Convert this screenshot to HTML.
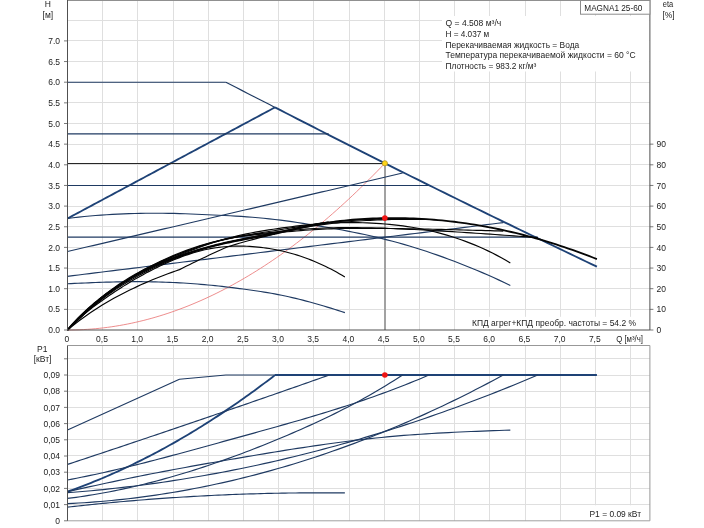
<!DOCTYPE html>
<html><head><meta charset="utf-8"><title>MAGNA1 25-60</title>
<style>html,body{margin:0;padding:0;background:#fff;}svg{display:block;filter:blur(0.35px);}</style></head>
<body>
<svg width="704" height="528" viewBox="0 0 704 528" font-family="Liberation Sans, sans-serif" font-size="8.5" fill="#1c1c1c">
<rect width="704" height="528" fill="#fff"/>
<path d="M102.50,0V330.0 M137.50,0V330.0 M173.50,0V330.0 M208.50,0V330.0 M243.50,0V330.0 M278.50,0V330.0 M313.50,0V330.0 M349.50,0V330.0 M384.50,0V330.0 M419.50,0V330.0 M454.50,0V330.0 M489.50,0V330.0 M525.50,0V330.0 M560.50,0V330.0 M595.50,0V330.0 M630.50,0V330.0 M67.5,309.50H649.9 M67.5,288.50H649.9 M67.5,268.50H649.9 M67.5,247.50H649.9 M67.5,226.50H649.9 M67.5,206.50H649.9 M67.5,185.50H649.9 M67.5,164.50H649.9 M67.5,144.50H649.9 M67.5,123.50H649.9 M67.5,102.50H649.9 M67.5,82.50H649.9 M67.5,61.50H649.9 M67.5,40.50H649.9 M67.5,20.50H649.9" stroke="#dfdfdf" stroke-width="1" fill="none"/>
<path d="M102.50,345.5V520.8 M137.50,345.5V520.8 M173.50,345.5V520.8 M208.50,345.5V520.8 M243.50,345.5V520.8 M278.50,345.5V520.8 M313.50,345.5V520.8 M349.50,345.5V520.8 M384.50,345.5V520.8 M419.50,345.5V520.8 M454.50,345.5V520.8 M489.50,345.5V520.8 M525.50,345.5V520.8 M560.50,345.5V520.8 M595.50,345.5V520.8 M630.50,345.5V520.8 M67.5,504.50H649.9 M67.5,488.50H649.9 M67.5,472.50H649.9 M67.5,455.50H649.9 M67.5,439.50H649.9 M67.5,423.50H649.9 M67.5,407.50H649.9 M67.5,391.50H649.9 M67.5,375.50H649.9 M67.5,358.50H649.9" stroke="#dfdfdf" stroke-width="1" fill="none"/>
<rect x="442" y="16" width="207.5" height="55.5" fill="#fff"/>
<rect x="470" y="316.8" width="180" height="12.7" fill="#fff"/>
<rect x="587" y="505.3" width="63" height="15" fill="#fff"/>
<path d="M385.0,163.27V330.0" stroke="#a2a2a2" stroke-width="2" fill="none"/>
<polyline points="67.50,330.00 71.52,329.97 75.53,329.89 79.55,329.76 83.57,329.57 87.59,329.33 91.60,329.04 95.62,328.69 99.64,328.29 103.66,327.84 107.67,327.33 111.69,326.77 115.71,326.15 119.72,325.49 123.74,324.76 127.76,323.99 131.78,323.16 135.79,322.28 139.81,321.34 143.83,320.36 147.85,319.31 151.86,318.22 155.88,317.07 159.90,315.87 163.91,314.61 167.93,313.30 171.95,311.94 175.97,310.52 179.98,309.06 184.00,307.53 188.02,305.96 192.03,304.33 196.05,302.64 200.07,300.91 204.09,299.12 208.10,297.27 212.12,295.38 216.14,293.43 220.16,291.42 224.17,289.37 228.19,287.26 232.21,285.09 236.22,282.87 240.24,280.60 244.26,278.28 248.28,275.90 252.29,273.47 256.31,270.99 260.33,268.45 264.35,265.86 268.36,263.21 272.38,260.51 276.40,257.76 280.41,254.96 284.43,252.10 288.45,249.19 292.47,246.22 296.48,243.20 300.50,240.13 304.52,237.01 308.54,233.83 312.55,230.59 316.57,227.31 320.59,223.97 324.60,220.58 328.62,217.13 332.64,213.63 336.66,210.08 340.67,206.47 344.69,202.81 348.71,199.10 352.73,195.33 356.74,191.51 360.76,187.64 364.78,183.71 368.79,179.73 372.81,175.69 376.83,171.61 380.85,167.47 384.86,163.27" fill="none" stroke="#e87070" stroke-width="0.8" stroke-linejoin="round" stroke-linecap="butt" />
<polyline points="67.50,82.20 225.90,82.20" fill="none" stroke="#1f3a62" stroke-width="1.15" stroke-linejoin="round" stroke-linecap="butt" />
<polyline points="225.90,82.20 231.35,85.01 236.80,87.81 242.26,90.62 247.71,93.42 253.16,96.22 258.61,99.02 264.06,101.81 269.52,104.60 274.97,107.39" fill="none" stroke="#1f3a62" stroke-width="1.15" stroke-linejoin="round" stroke-linecap="butt" />
<polyline points="274.97,107.39 280.43,110.18 285.88,112.98 291.34,115.77 296.80,118.56 302.25,121.36 307.71,124.15 313.16,126.94 318.62,129.73 324.08,132.52 329.53,135.31 334.99,138.09 340.45,140.87 345.90,143.64 351.36,146.41 356.82,149.17 362.27,151.93 367.73,154.68 373.19,157.43 378.64,160.16 384.10,162.89 389.56,165.61 395.01,168.33 400.47,171.05 405.93,173.76 411.38,176.47 416.84,179.18 422.30,181.88 427.75,184.58 433.21,187.28 438.67,189.97 444.12,192.66 449.58,195.35 455.04,198.04 460.49,200.72 465.95,203.40 471.41,206.07 476.86,208.74 482.32,211.41 487.78,214.08 493.23,216.74 498.69,219.40 504.15,222.05 509.60,224.70 515.06,227.35 520.52,230.00 525.97,232.64 531.43,235.28 536.89,237.91 542.34,240.54 547.80,243.17 553.26,245.79 558.71,248.41 564.17,251.03 569.63,253.64 575.08,256.25 580.54,258.86 585.99,261.46 591.45,264.06 596.91,266.65" fill="none" stroke="#1e4276" stroke-width="1.85" stroke-linejoin="round" stroke-linecap="butt" />
<polyline points="67.50,218.49 70.13,217.08 72.75,215.68 75.38,214.27 78.00,212.86 80.63,211.46 83.26,210.05 85.88,208.65 88.51,207.24 91.14,205.83 93.76,204.43 96.39,203.02 99.01,201.61 101.64,200.21 104.27,198.80 106.89,197.40 109.52,195.99 112.15,194.58 114.77,193.18 117.40,191.77 120.02,190.36 122.65,188.96 125.28,187.55 127.90,186.15 130.53,184.74 133.15,183.33 135.78,181.93 138.41,180.52 141.03,179.11 143.66,177.71 146.29,176.30 148.91,174.89 151.54,173.49 154.16,172.08 156.79,170.68 159.42,169.27 162.04,167.86 164.67,166.46 167.30,165.05 169.92,163.64 172.55,162.24 175.17,160.83 177.80,159.43 180.43,158.02 183.05,156.61 185.68,155.21 188.30,153.80 190.93,152.39 193.56,150.99 196.18,149.58 198.81,148.18 201.44,146.77 204.06,145.36 206.69,143.96 209.31,142.55 211.94,141.14 214.57,139.74 217.19,138.33 219.82,136.93 222.45,135.52 225.07,134.11 227.70,132.71 230.32,131.30 232.95,129.89 235.58,128.49 238.20,127.08 240.83,125.67 243.45,124.27 246.08,122.86 248.71,121.46 251.33,120.05 253.96,118.64 256.59,117.24 259.21,115.83 261.84,114.42 264.46,113.02 267.09,111.61 269.72,110.21 272.34,108.80 274.97,107.39" fill="none" stroke="#1e4276" stroke-width="1.85" stroke-linejoin="round" stroke-linecap="butt" />
<polyline points="67.50,133.83 70.81,133.83 74.11,133.83 77.42,133.83 80.72,133.83 84.03,133.83 87.34,133.83 90.64,133.83 93.95,133.83 97.26,133.83 100.56,133.83 103.87,133.83 107.17,133.83 110.48,133.83 113.79,133.83 117.09,133.83 120.40,133.83 123.70,133.83 127.01,133.83 130.32,133.83 133.62,133.83 136.93,133.83 140.23,133.83 143.54,133.83 146.85,133.83 150.15,133.83 153.46,133.83 156.77,133.83 160.07,133.83 163.38,133.83 166.68,133.83 169.99,133.83 173.30,133.83 176.60,133.83 179.91,133.83 183.21,133.83 186.52,133.83 189.83,133.83 193.13,133.83 196.44,133.83 199.75,133.83 203.05,133.83 206.36,133.83 209.66,133.83 212.97,133.83 216.28,133.83 219.58,133.83 222.89,133.83 226.19,133.83 229.50,133.83 232.81,133.83 236.11,133.83 239.42,133.83 242.72,133.83 246.03,133.83 249.34,133.83 252.64,133.83 255.95,133.83 259.26,133.83 262.56,133.83 265.87,133.83 269.17,133.83 272.48,133.83 275.79,133.83 279.09,133.83 282.40,133.83 285.70,133.83 289.01,133.83 292.32,133.83 295.62,133.83 298.93,133.83 302.23,133.83 305.54,133.83 308.85,133.83 312.15,133.83 315.46,133.83 318.77,133.83 322.07,133.83 325.38,133.83 328.68,133.83" fill="none" stroke="#1f3a62" stroke-width="1.15" stroke-linejoin="round" stroke-linecap="butt" />
<polyline points="67.50,185.45 72.07,185.45 76.63,185.45 81.20,185.45 85.77,185.45 90.34,185.45 94.90,185.45 99.47,185.45 104.04,185.45 108.60,185.45 113.17,185.45 117.74,185.45 122.31,185.45 126.87,185.45 131.44,185.45 136.01,185.45 140.57,185.45 145.14,185.45 149.71,185.45 154.27,185.45 158.84,185.45 163.41,185.45 167.98,185.45 172.54,185.45 177.11,185.45 181.68,185.45 186.24,185.45 190.81,185.45 195.38,185.45 199.95,185.45 204.51,185.45 209.08,185.45 213.65,185.45 218.21,185.45 222.78,185.45 227.35,185.45 231.92,185.45 236.48,185.45 241.05,185.45 245.62,185.45 250.18,185.45 254.75,185.45 259.32,185.45 263.88,185.45 268.45,185.45 273.02,185.45 277.59,185.45 282.15,185.45 286.72,185.45 291.29,185.45 295.85,185.45 300.42,185.45 304.99,185.45 309.56,185.45 314.12,185.45 318.69,185.45 323.26,185.45 327.82,185.45 332.39,185.45 336.96,185.45 341.53,185.45 346.09,185.45 350.66,185.45 355.23,185.45 359.79,185.45 364.36,185.45 368.93,185.45 373.49,185.45 378.06,185.45 382.63,185.45 387.20,185.45 391.76,185.45 396.33,185.45 400.90,185.45 405.46,185.45 410.03,185.45 414.60,185.45 419.17,185.45 423.73,185.45 428.30,185.45" fill="none" stroke="#1f3a62" stroke-width="1.15" stroke-linejoin="round" stroke-linecap="butt" />
<polyline points="67.50,237.07 73.45,237.07 79.41,237.07 85.36,237.07 91.31,237.07 97.26,237.07 103.22,237.07 109.17,237.07 115.12,237.07 121.08,237.07 127.03,237.07 132.98,237.07 138.93,237.07 144.89,237.07 150.84,237.07 156.79,237.07 162.74,237.07 168.70,237.07 174.65,237.07 180.60,237.07 186.56,237.07 192.51,237.07 198.46,237.07 204.41,237.07 210.37,237.07 216.32,237.07 222.27,237.07 228.23,237.07 234.18,237.07 240.13,237.07 246.08,237.07 252.04,237.07 257.99,237.07 263.94,237.07 269.90,237.07 275.85,237.07 281.80,237.07 287.75,237.07 293.71,237.07 299.66,237.07 305.61,237.07 311.57,237.07 317.52,237.07 323.47,237.07 329.42,237.07 335.38,237.07 341.33,237.07 347.28,237.07 353.23,237.07 359.19,237.07 365.14,237.07 371.09,237.07 377.05,237.07 383.00,237.07 388.95,237.07 394.90,237.07 400.86,237.07 406.81,237.07 412.76,237.07 418.72,237.07 424.67,237.07 430.62,237.07 436.57,237.07 442.53,237.07 448.48,237.07 454.43,237.07 460.39,237.07 466.34,237.07 472.29,237.07 478.24,237.07 484.20,237.07 490.15,237.07 496.10,237.07 502.06,237.07 508.01,237.07 513.96,237.07 519.91,237.07 525.87,237.07 531.82,237.07 537.77,237.07" fill="none" stroke="#1f3a62" stroke-width="1.15" stroke-linejoin="round" stroke-linecap="butt" />
<polyline points="67.50,251.53 71.74,250.54 75.98,249.54 80.23,248.55 84.47,247.56 88.71,246.56 92.95,245.57 97.19,244.58 101.43,243.58 105.68,242.59 109.92,241.60 114.16,240.60 118.40,239.61 122.64,238.62 126.89,237.62 131.13,236.63 135.37,235.64 139.61,234.64 143.85,233.65 148.09,232.66 152.34,231.66 156.58,230.67 160.82,229.68 165.06,228.68 169.30,227.69 173.55,226.70 177.79,225.70 182.03,224.71 186.27,223.72 190.51,222.72 194.75,221.73 199.00,220.74 203.24,219.74 207.48,218.75 211.72,217.76 215.96,216.76 220.21,215.77 224.45,214.78 228.69,213.78 232.93,212.79 237.17,211.80 241.41,210.81 245.66,209.81 249.90,208.82 254.14,207.83 258.38,206.83 262.62,205.84 266.87,204.85 271.11,203.85 275.35,202.86 279.59,201.87 283.83,200.87 288.07,199.88 292.32,198.89 296.56,197.89 300.80,196.90 305.04,195.91 309.28,194.91 313.53,193.92 317.77,192.93 322.01,191.93 326.25,190.94 330.49,189.95 334.73,188.95 338.98,187.96 343.22,186.97 347.46,185.97 351.70,184.98 355.94,183.99 360.19,182.99 364.43,182.00 368.67,181.01 372.91,180.01 377.15,179.02 381.39,178.03 385.64,177.03 389.88,176.04 394.12,175.05 398.36,174.05 402.60,173.06" fill="none" stroke="#1f3a62" stroke-width="1.15" stroke-linejoin="round" stroke-linecap="butt" />
<polyline points="67.50,276.31 73.02,275.63 78.53,274.95 84.05,274.27 89.56,273.59 95.08,272.91 100.60,272.23 106.11,271.55 111.63,270.87 117.15,270.19 122.66,269.51 128.18,268.83 133.69,268.15 139.21,267.47 144.73,266.80 150.24,266.12 155.76,265.44 161.27,264.76 166.79,264.08 172.31,263.40 177.82,262.72 183.34,262.04 188.86,261.36 194.37,260.68 199.89,260.00 205.40,259.32 210.92,258.64 216.44,257.96 221.95,257.28 227.47,256.60 232.98,255.92 238.50,255.24 244.02,254.56 249.53,253.88 255.05,253.20 260.57,252.52 266.08,251.84 271.60,251.16 277.11,250.48 282.63,249.80 288.15,249.13 293.66,248.45 299.18,247.77 304.69,247.09 310.21,246.41 315.73,245.73 321.24,245.05 326.76,244.37 332.28,243.69 337.79,243.01 343.31,242.33 348.82,241.65 354.34,240.97 359.86,240.29 365.37,239.61 370.89,238.93 376.40,238.25 381.92,237.57 387.44,236.89 392.95,236.21 398.47,235.53 403.99,234.85 409.50,234.17 415.02,233.49 420.53,232.81 426.05,232.13 431.57,231.46 437.08,230.78 442.60,230.10 448.11,229.42 453.63,228.74 459.15,228.06 464.66,227.38 470.18,226.70 475.70,226.02 481.21,225.34 486.73,224.66 492.24,223.98 497.76,223.30 503.28,222.62" fill="none" stroke="#1f3a62" stroke-width="1.15" stroke-linejoin="round" stroke-linecap="butt" />
<polyline points="67.50,218.49 73.11,217.78 78.71,217.13 84.32,216.54 89.92,216.00 95.53,215.52 101.13,215.09 106.74,214.71 112.34,214.38 117.95,214.09 123.55,213.85 129.16,213.65 134.76,213.48 140.37,213.36 145.97,213.27 151.58,213.22 157.18,213.21 162.79,213.24 168.39,213.32 174.00,213.43 179.61,213.59 185.21,213.78 190.82,214.00 196.42,214.24 202.03,214.49 207.63,214.74 213.24,214.99 218.84,215.25 224.45,215.51 230.05,215.79 235.66,216.10 241.26,216.44 246.87,216.83 252.47,217.26 258.08,217.74 263.68,218.27 269.29,218.85 274.89,219.48 280.50,220.16 286.11,220.89 291.71,221.67 297.32,222.49 302.92,223.35 308.53,224.23 314.13,225.14 319.74,226.06 325.34,227.01 330.95,227.98 336.55,228.99 342.16,230.02 347.76,231.09 353.37,232.19 358.97,233.34 364.58,234.54 370.18,235.78 375.79,237.07 381.39,238.42 387.00,239.82 392.61,241.29 398.21,242.81 403.82,244.40 409.42,246.04 415.03,247.74 420.63,249.50 426.24,251.32 431.84,253.20 437.45,255.13 443.05,257.12 448.66,259.17 454.26,261.28 459.87,263.44 465.47,265.66 471.08,267.93 476.68,270.26 482.29,272.64 487.89,275.09 493.50,277.58 499.11,280.13 504.71,282.74 510.32,285.40" fill="none" stroke="#1f3a62" stroke-width="1.15" stroke-linejoin="round" stroke-linecap="butt" />
<polyline points="67.50,283.74 71.01,283.58 74.52,283.42 78.03,283.27 81.54,283.11 85.06,282.97 88.57,282.82 92.08,282.68 95.59,282.55 99.10,282.42 102.61,282.30 106.12,282.19 109.63,282.09 113.14,282.00 116.66,281.91 120.17,281.84 123.68,281.78 127.19,281.74 130.70,281.70 134.21,281.68 137.72,281.68 141.23,281.69 144.74,281.72 148.26,281.76 151.77,281.81 155.28,281.89 158.79,281.98 162.30,282.08 165.81,282.20 169.32,282.34 172.83,282.49 176.34,282.66 179.85,282.85 183.37,283.05 186.88,283.27 190.39,283.50 193.90,283.76 197.41,284.03 200.92,284.32 204.43,284.62 207.94,284.95 211.45,285.29 214.97,285.65 218.48,286.03 221.99,286.42 225.50,286.83 229.01,287.25 232.52,287.69 236.03,288.13 239.54,288.59 243.05,289.05 246.57,289.53 250.08,290.01 253.59,290.51 257.10,291.02 260.61,291.55 264.12,292.11 267.63,292.68 271.14,293.29 274.65,293.92 278.17,294.58 281.68,295.28 285.19,296.02 288.70,296.78 292.21,297.58 295.72,298.41 299.23,299.27 302.74,300.16 306.25,301.07 309.77,302.01 313.28,302.98 316.79,303.97 320.30,304.99 323.81,306.02 327.32,307.08 330.83,308.16 334.34,309.26 337.85,310.37 341.36,311.51 344.88,312.65" fill="none" stroke="#1f3a62" stroke-width="1.15" stroke-linejoin="round" stroke-linecap="butt" />
<polyline points="67.50,330.00 71.36,326.81 75.22,323.74 79.08,320.79 82.94,317.93 86.80,315.18 90.66,312.53 94.52,309.96 98.38,307.48 102.24,305.09 106.10,302.77 109.96,300.52 113.82,298.35 117.68,296.24 121.54,294.20 125.40,292.21 129.26,290.29 133.12,288.42 136.98,286.61 140.84,284.84 144.70,283.13 148.56,281.46 152.42,279.84 156.28,278.26 160.14,276.73 164.00,275.23 167.86,273.77 171.72,272.35 175.58,270.97 179.44,269.62 182.75,267.97 186.07,266.32 189.39,264.68 192.71,263.06 196.03,261.44 199.35,259.83 202.67,258.23 205.99,256.65 209.31,255.07 212.62,253.51 215.94,251.97 219.26,250.44 222.58,248.93 225.90,247.43 230.36,245.99 234.82,244.61 239.28,243.29 243.74,242.01 248.20,240.78 252.66,239.58 257.13,238.42 261.59,237.27 266.05,236.14 270.51,235.03 274.97,233.91" fill="none" stroke="#050505" stroke-width="1.15" stroke-linejoin="round" stroke-linecap="butt" />
<polyline points="274.97,233.91 279.04,232.91 283.12,231.91 287.19,230.92 291.27,229.94 295.34,228.99 299.42,228.06 303.50,227.16 307.57,226.30 311.65,225.48 315.72,224.70 319.80,223.97 323.87,223.28 327.95,222.65 332.02,222.06 336.10,221.51 340.17,221.02 344.25,220.57 348.32,220.16 352.40,219.79 356.47,219.45 360.55,219.16 364.62,218.91 368.70,218.68 372.77,218.50 376.85,218.34 380.92,218.22 385.00,218.13 389.07,218.08 393.15,218.06 397.22,218.07 401.30,218.12 405.37,218.20 409.45,218.32 413.52,218.46 417.60,218.65 421.68,218.86 425.75,219.11 429.83,219.39 433.90,219.71 437.98,220.06 442.05,220.44 446.13,220.86 450.20,221.31 454.28,221.79 458.35,222.30 462.43,222.85 466.50,223.43 470.58,224.05 474.65,224.69 478.73,225.37 482.80,226.09 486.88,226.83 490.95,227.61 495.03,228.42 499.10,229.26 503.18,230.14 507.25,231.05 511.33,231.99 515.40,232.96 519.48,233.96 523.55,235.00 527.63,236.07 531.71,237.17 535.78,238.31 539.86,239.47 543.93,240.67 548.01,241.90 552.08,243.16 556.16,244.45 560.23,245.77 564.31,247.13 568.38,248.52 572.46,249.93 576.53,251.38 580.61,252.86 584.68,254.38 588.76,255.92 592.83,257.50 596.91,259.09" fill="none" stroke="#050505" stroke-width="1.85" stroke-linejoin="round" stroke-linecap="butt" />
<polyline points="67.50,330.00 69.60,327.56 71.69,325.20 73.79,322.90 75.88,320.67 77.98,318.50 80.07,316.39 82.17,314.33 84.27,312.33 86.36,310.38 88.46,308.48 90.55,306.63 92.65,304.83 94.74,303.07 96.84,301.35 98.93,299.67 101.03,298.03 103.13,296.43 105.22,294.86 107.32,293.33 109.41,291.83 111.51,290.36 113.60,288.93 115.70,287.53 117.80,286.15 119.89,284.81 121.99,283.49 124.08,282.20 126.18,280.93 128.27,279.69 130.37,278.48 132.46,277.29 134.56,276.12 136.66,274.98 138.75,273.86 140.85,272.76 142.94,271.68 145.04,270.63 147.13,269.60 149.23,268.59 151.33,267.60 153.42,266.63 155.52,265.68 157.61,264.75 159.71,263.84 161.80,262.95 163.90,262.08 166.00,261.22 168.09,260.39 170.19,259.57 172.28,258.77 174.38,257.99 176.47,257.22 178.57,256.47 180.66,255.74 182.76,255.02 184.86,254.32 186.95,253.63 189.05,252.95 191.14,252.29 193.24,251.65 195.33,251.01 197.43,250.39 199.53,249.79 201.62,249.19 203.72,248.61 205.81,248.04 207.91,247.48 210.00,246.93 212.10,246.40 214.20,245.87 216.29,245.36 218.39,244.86 220.48,244.37 222.58,243.89 224.67,243.41 226.77,242.95 228.86,242.50 230.96,242.06 233.06,241.62 235.15,241.20 237.25,240.78 239.34,240.37 241.44,239.97 243.53,239.57 245.63,239.18 247.73,238.79 249.82,238.41 251.92,238.02 254.01,237.64 256.11,237.27 258.20,236.89 260.30,236.51 262.39,236.13 264.49,235.75 266.59,235.37 268.68,234.98 270.78,234.59 272.87,234.20 274.97,233.80" fill="none" stroke="#050505" stroke-width="1.85" stroke-linejoin="round" stroke-linecap="butt" />
<polyline points="67.50,330.00 70.14,327.21 72.78,324.50 75.41,321.87 78.05,319.32 80.69,316.84 83.33,314.43 85.97,312.08 88.61,309.80 91.24,307.57 93.88,305.41 96.52,303.30 99.16,301.24 101.80,299.23 104.44,297.27 107.07,295.36 109.71,293.49 112.35,291.67 114.99,289.88 117.63,288.14 120.26,286.44 122.90,284.77 125.54,283.15 128.18,281.56 130.82,280.00 133.46,278.48 136.09,276.99 138.73,275.54 141.37,274.12 144.01,272.73 146.65,271.37 149.28,270.04 151.92,268.75 154.56,267.48 157.20,266.25 159.84,265.05 162.48,263.87 165.11,262.72 167.75,261.60 170.39,260.51 173.03,259.45 175.67,258.41 178.31,257.40 180.94,256.41 183.58,255.45 186.22,254.51 188.86,253.59 191.50,252.70 194.13,251.83 196.77,250.98 199.41,250.15 202.05,249.34 204.69,248.55 207.33,247.78 209.96,247.02 212.60,246.29 215.24,245.57 217.88,244.88 220.52,244.20 223.16,243.53 225.79,242.89 228.43,242.26 231.07,241.64 233.71,241.04 236.35,240.46 238.98,239.88 241.62,239.32 244.26,238.77 246.90,238.22 249.54,237.69 252.18,237.16 254.81,236.63 257.45,236.10 260.09,235.58 262.73,235.05 265.37,234.53 268.00,234.00 270.64,233.46 273.28,232.92 275.92,232.38 278.56,231.83 281.20,231.28 283.83,230.72 286.47,230.16 289.11,229.60 291.75,229.04 294.39,228.47 297.03,227.91 299.66,227.36 302.30,226.81 304.94,226.26 307.58,225.72 310.22,225.19 312.85,224.67 315.49,224.16 318.13,223.66 320.77,223.18 323.41,222.70 326.05,222.23 328.68,221.78" fill="none" stroke="#050505" stroke-width="1.15" stroke-linejoin="round" stroke-linecap="butt" />
<polyline points="67.50,330.00 71.14,326.09 74.79,322.31 78.43,318.65 82.08,315.13 85.72,311.72 89.37,308.43 93.01,305.26 96.66,302.20 100.30,299.25 103.94,296.41 107.59,293.67 111.23,291.03 114.88,288.48 118.52,286.03 122.17,283.66 125.81,281.38 129.46,279.18 133.10,277.07 136.74,275.02 140.39,273.06 144.03,271.16 147.68,269.33 151.32,267.56 154.97,265.85 158.61,264.21 162.26,262.62 165.90,261.09 169.54,259.61 173.19,258.17 176.83,256.79 180.48,255.45 184.12,254.16 187.77,252.91 191.41,251.71 195.06,250.54 198.70,249.41 202.34,248.33 205.99,247.28 209.63,246.27 213.28,245.30 216.92,244.36 220.57,243.46 224.21,242.60 227.86,241.77 231.50,240.97 235.14,240.21 238.79,239.47 242.43,238.75 246.08,238.05 249.72,237.37 253.37,236.71 257.01,236.05 260.66,235.39 264.30,234.74 267.94,234.09 271.59,233.43 275.23,232.76 278.88,232.09 282.52,231.42 286.17,230.75 289.81,230.07 293.46,229.40 297.10,228.74 300.74,228.09 304.39,227.46 308.03,226.84 311.68,226.25 315.32,225.68 318.97,225.15 322.61,224.63 326.26,224.15 329.90,223.70 333.54,223.27 337.19,222.87 340.83,222.50 344.48,222.15 348.12,221.83 351.77,221.53 355.41,221.25 359.06,221.00 362.70,220.76 366.34,220.54 369.99,220.35 373.63,220.17 377.28,220.00 380.92,219.86 384.57,219.74 388.21,219.63 391.86,219.53 395.50,219.46 399.14,219.40 402.79,219.36 406.43,219.33 410.08,219.32 413.72,219.33 417.37,219.35 421.01,219.39 424.66,219.44 428.30,219.51" fill="none" stroke="#050505" stroke-width="1.15" stroke-linejoin="round" stroke-linecap="butt" />
<polyline points="67.50,330.00 72.25,325.23 77.00,320.60 81.75,316.10 86.50,311.75 91.25,307.54 96.00,303.48 100.75,299.57 105.50,295.81 110.25,292.21 115.00,288.75 119.75,285.45 124.50,282.29 129.25,279.27 134.00,276.38 138.75,273.62 143.50,270.97 148.25,268.43 153.00,265.99 157.75,263.64 162.50,261.38 167.25,259.20 172.00,257.10 176.76,255.07 181.51,253.11 186.26,251.23 191.01,249.43 195.76,247.71 200.51,246.08 205.26,244.54 210.01,243.10 214.76,241.75 219.51,240.51 224.26,239.37 229.01,238.34 233.76,237.40 238.51,236.55 243.26,235.79 248.01,235.10 252.76,234.47 257.51,233.89 262.26,233.34 267.01,232.82 271.76,232.32 276.51,231.82 281.26,231.33 286.01,230.86 290.76,230.39 295.51,229.95 300.26,229.53 305.01,229.14 309.76,228.79 314.51,228.49 319.26,228.23 324.01,228.02 328.76,227.85 333.51,227.72 338.26,227.64 343.01,227.59 347.76,227.58 352.51,227.60 357.26,227.64 362.01,227.71 366.76,227.79 371.51,227.90 376.26,228.03 381.01,228.17 385.76,228.33 390.52,228.50 395.27,228.69 400.02,228.88 404.77,229.09 409.52,229.31 414.27,229.54 419.02,229.78 423.77,230.03 428.52,230.28 433.27,230.55 438.02,230.82 442.77,231.10 447.52,231.39 452.27,231.68 457.02,231.98 461.77,232.28 466.52,232.59 471.27,232.90 476.02,233.22 480.77,233.54 485.52,233.87 490.27,234.19 495.02,234.52 499.77,234.86 504.52,235.20 509.27,235.54 514.02,235.88 518.77,236.22 523.52,236.56 528.27,236.91 533.02,237.26 537.77,237.61" fill="none" stroke="#050505" stroke-width="1.15" stroke-linejoin="round" stroke-linecap="butt" />
<polyline points="67.50,330.00 70.88,326.38 74.27,322.83 77.65,319.36 81.04,315.97 84.42,312.67 87.81,309.46 91.19,306.34 94.58,303.31 97.96,300.39 101.35,297.55 104.73,294.82 108.12,292.18 111.50,289.64 114.89,287.19 118.27,284.83 121.66,282.56 125.04,280.38 128.43,278.28 131.81,276.26 135.20,274.31 138.58,272.43 141.97,270.62 145.35,268.87 148.74,267.18 152.12,265.54 155.51,263.95 158.89,262.40 162.28,260.90 165.66,259.43 169.05,258.00 172.43,256.61 175.82,255.25 179.20,253.93 182.59,252.64 185.97,251.38 189.36,250.15 192.74,248.96 196.13,247.80 199.51,246.67 202.90,245.59 206.28,244.54 209.67,243.53 213.05,242.56 216.44,241.64 219.82,240.75 223.20,239.91 226.59,239.10 229.97,238.34 233.36,237.62 236.74,236.93 240.13,236.28 243.51,235.66 246.90,235.06 250.28,234.48 253.67,233.92 257.05,233.38 260.44,232.84 263.82,232.30 267.21,231.77 270.59,231.24 273.98,230.70 277.36,230.15 280.75,229.60 284.13,229.05 287.52,228.49 290.90,227.93 294.29,227.37 297.67,226.81 301.06,226.26 304.44,225.73 307.83,225.21 311.21,224.70 314.60,224.21 317.98,223.75 321.37,223.31 324.75,222.89 328.14,222.50 331.52,222.13 334.91,221.78 338.29,221.46 341.68,221.15 345.06,220.88 348.45,220.62 351.83,220.38 355.22,220.16 358.60,219.96 361.99,219.78 365.37,219.61 368.76,219.47 372.14,219.34 375.52,219.22 378.91,219.13 382.29,219.05 385.68,218.98 389.06,218.93 392.45,218.90 395.83,218.88 399.22,218.88 402.60,218.89" fill="none" stroke="#050505" stroke-width="1.15" stroke-linejoin="round" stroke-linecap="butt" />
<polyline points="67.50,330.00 71.90,325.78 76.30,321.59 80.71,317.46 85.11,313.40 89.51,309.41 93.91,305.52 98.31,301.73 102.71,298.06 107.12,294.50 111.52,291.07 115.92,287.78 120.32,284.61 124.72,281.58 129.12,278.67 133.53,275.89 137.93,273.24 142.33,270.70 146.73,268.27 151.13,265.94 155.54,263.71 159.94,261.57 164.34,259.52 168.74,257.54 173.14,255.65 177.54,253.83 181.95,252.08 186.35,250.41 190.75,248.82 195.15,247.30 199.55,245.87 203.96,244.51 208.36,243.24 212.76,242.06 217.16,240.97 221.56,239.97 225.96,239.05 230.37,238.22 234.77,237.47 239.17,236.80 243.57,236.19 247.97,235.64 252.37,235.14 256.78,234.68 261.18,234.24 265.58,233.82 269.98,233.40 274.38,233.00 278.79,232.59 283.19,232.19 287.59,231.78 291.99,231.39 296.39,231.01 300.79,230.64 305.20,230.29 309.60,229.97 314.00,229.68 318.40,229.42 322.80,229.19 327.20,229.00 331.61,228.83 336.01,228.70 340.41,228.59 344.81,228.50 349.21,228.44 353.62,228.40 358.02,228.37 362.42,228.35 366.82,228.35 371.22,228.36 375.62,228.38 380.03,228.41 384.43,228.44 388.83,228.49 393.23,228.54 397.63,228.60 402.04,228.66 406.44,228.73 410.84,228.80 415.24,228.88 419.64,228.96 424.04,229.05 428.45,229.14 432.85,229.23 437.25,229.33 441.65,229.43 446.05,229.53 450.45,229.64 454.86,229.75 459.26,229.86 463.66,229.97 468.06,230.09 472.46,230.20 476.87,230.32 481.27,230.44 485.67,230.56 490.07,230.68 494.47,230.81 498.87,230.93 503.28,231.06" fill="none" stroke="#050505" stroke-width="1.15" stroke-linejoin="round" stroke-linecap="butt" />
<polyline points="67.50,330.00 71.97,324.89 76.45,320.06 80.92,315.50 85.39,311.19 89.86,307.10 94.34,303.24 98.81,299.57 103.28,296.09 107.76,292.80 112.23,289.66 116.70,286.68 121.17,283.84 125.65,281.13 130.12,278.53 134.59,276.05 139.07,273.65 143.54,271.34 148.01,269.11 152.48,266.95 156.96,264.85 161.43,262.80 165.90,260.81 170.38,258.86 174.85,256.97 179.32,255.12 183.80,253.31 188.27,251.55 192.74,249.84 197.21,248.18 201.69,246.57 206.16,245.01 210.63,243.50 215.11,242.05 219.58,240.67 224.05,239.35 228.52,238.11 233.00,236.94 237.47,235.85 241.94,234.83 246.42,233.89 250.89,233.01 255.36,232.18 259.83,231.40 264.31,230.65 268.78,229.94 273.25,229.24 277.73,228.58 282.20,227.93 286.67,227.31 291.14,226.71 295.62,226.14 300.09,225.61 304.56,225.11 309.04,224.65 313.51,224.24 317.98,223.86 322.45,223.54 326.93,223.25 331.40,223.02 335.87,222.84 340.35,222.70 344.82,222.61 349.29,222.57 353.76,222.57 358.24,222.63 362.71,222.72 367.18,222.87 371.66,223.06 376.13,223.31 380.60,223.60 385.08,223.95 389.55,224.36 394.02,224.83 398.49,225.35 402.97,225.93 407.44,226.57 411.91,227.27 416.39,228.04 420.86,228.87 425.33,229.78 429.80,230.75 434.28,231.80 438.75,232.92 443.22,234.13 447.70,235.41 452.17,236.77 456.64,238.22 461.11,239.76 465.59,241.38 470.06,243.09 474.53,244.90 479.01,246.80 483.48,248.79 487.95,250.89 492.42,253.08 496.90,255.38 501.37,257.78 505.84,260.28 510.32,262.89" fill="none" stroke="#050505" stroke-width="1.15" stroke-linejoin="round" stroke-linecap="butt" />
<polyline points="67.50,330.00 70.30,327.09 73.10,324.29 75.91,321.61 78.71,319.02 81.51,316.54 84.31,314.14 87.11,311.82 89.91,309.58 92.72,307.40 95.52,305.28 98.32,303.21 101.12,301.18 103.92,299.19 106.72,297.23 109.53,295.30 112.33,293.41 115.13,291.54 117.93,289.70 120.73,287.90 123.54,286.13 126.34,284.39 129.14,282.68 131.94,281.01 134.74,279.36 137.54,277.75 140.35,276.17 143.15,274.63 145.95,273.11 148.75,271.63 151.55,270.18 154.36,268.77 157.16,267.39 159.96,266.05 162.76,264.73 165.56,263.46 168.36,262.22 171.17,261.01 173.97,259.84 176.77,258.71 179.57,257.62 182.37,256.56 185.17,255.55 187.98,254.59 190.78,253.66 193.58,252.79 196.38,251.96 199.18,251.19 201.99,250.47 204.79,249.81 207.59,249.20 210.39,248.65 213.19,248.16 215.99,247.72 218.80,247.34 221.60,247.01 224.40,246.74 227.20,246.52 230.00,246.34 232.80,246.22 235.61,246.14 238.41,246.11 241.21,246.12 244.01,246.17 246.81,246.27 249.62,246.41 252.42,246.59 255.22,246.81 258.02,247.07 260.82,247.37 263.62,247.72 266.43,248.10 269.23,248.53 272.03,249.00 274.83,249.51 277.63,250.07 280.44,250.67 283.24,251.30 286.04,251.99 288.84,252.71 291.64,253.48 294.44,254.29 297.25,255.15 300.05,256.05 302.85,257.00 305.65,258.00 308.45,259.04 311.25,260.12 314.06,261.26 316.86,262.44 319.66,263.67 322.46,264.95 325.26,266.28 328.07,267.66 330.87,269.09 333.67,270.57 336.47,272.11 339.27,273.69 342.07,275.32 344.88,277.01" fill="none" stroke="#050505" stroke-width="1.15" stroke-linejoin="round" stroke-linecap="butt" />
<path d="M67.5,163.50H384.86" stroke="#262626" stroke-width="1" fill="none"/>
<polyline points="67.50,430.08 179.44,379.21 225.90,375.00 274.97,375.00" fill="none" stroke="#1f3a62" stroke-width="1.15" stroke-linejoin="round" stroke-linecap="butt" />
<polyline points="274.97,375.00 596.91,375.00" fill="none" stroke="#1e4276" stroke-width="1.85" stroke-linejoin="round" stroke-linecap="butt" />
<polyline points="67.50,491.64 70.13,490.71 72.75,489.77 75.38,488.81 78.00,487.84 80.63,486.86 83.26,485.86 85.88,484.85 88.51,483.82 91.14,482.78 93.76,481.72 96.39,480.66 99.01,479.57 101.64,478.48 104.27,477.37 106.89,476.24 109.52,475.10 112.15,473.95 114.77,472.78 117.40,471.60 120.02,470.41 122.65,469.20 125.28,467.98 127.90,466.74 130.53,465.49 133.15,464.22 135.78,462.95 138.41,461.65 141.03,460.35 143.66,459.03 146.29,457.69 148.91,456.34 151.54,454.98 154.16,453.60 156.79,452.21 159.42,450.81 162.04,449.39 164.67,447.96 167.30,446.51 169.92,445.05 172.55,443.57 175.17,442.08 177.80,440.58 180.43,439.06 183.05,437.53 185.68,435.99 188.30,434.43 190.93,432.86 193.56,431.27 196.18,429.67 198.81,428.06 201.44,426.43 204.06,424.78 206.69,423.13 209.31,421.46 211.94,419.77 214.57,418.07 217.19,416.36 219.82,414.63 222.45,412.89 225.07,411.14 227.70,409.37 230.32,407.59 232.95,405.79 235.58,403.98 238.20,402.15 240.83,400.31 243.45,398.46 246.08,396.59 248.71,394.71 251.33,392.82 253.96,390.91 256.59,388.99 259.21,387.05 261.84,385.10 264.46,383.13 267.09,381.16 269.72,379.16 272.34,377.16 274.97,375.13" fill="none" stroke="#1e4276" stroke-width="1.85" stroke-linejoin="round" stroke-linecap="butt" />
<polyline points="67.50,464.42 70.81,463.33 74.11,462.24 77.42,461.14 80.72,460.05 84.03,458.95 87.34,457.85 90.64,456.75 93.95,455.65 97.26,454.55 100.56,453.45 103.87,452.35 107.17,451.25 110.48,450.14 113.79,449.04 117.09,447.93 120.40,446.83 123.70,445.72 127.01,444.61 130.32,443.50 133.62,442.39 136.93,441.28 140.23,440.17 143.54,439.05 146.85,437.94 150.15,436.82 153.46,435.71 156.77,434.59 160.07,433.47 163.38,432.35 166.68,431.23 169.99,430.11 173.30,428.99 176.60,427.87 179.91,426.75 183.21,425.62 186.52,424.50 189.83,423.37 193.13,422.24 196.44,421.12 199.75,419.99 203.05,418.86 206.36,417.73 209.66,416.59 212.97,415.46 216.28,414.33 219.58,413.19 222.89,412.06 226.19,410.92 229.50,409.79 232.81,408.65 236.11,407.51 239.42,406.37 242.72,405.23 246.03,404.09 249.34,402.94 252.64,401.80 255.95,400.65 259.26,399.51 262.56,398.36 265.87,397.22 269.17,396.07 272.48,394.92 275.79,393.77 279.09,392.62 282.40,391.47 285.70,390.31 289.01,389.16 292.32,388.00 295.62,386.85 298.93,385.69 302.23,384.53 305.54,383.38 308.85,382.22 312.15,381.06 315.46,379.89 318.77,378.73 322.07,377.57 325.38,376.41 328.68,375.24" fill="none" stroke="#1f3a62" stroke-width="1.15" stroke-linejoin="round" stroke-linecap="butt" />
<polyline points="67.50,479.98 72.07,479.11 76.63,478.22 81.20,477.31 85.77,476.37 90.34,475.42 94.90,474.44 99.47,473.45 104.04,472.44 108.60,471.40 113.17,470.35 117.74,469.29 122.31,468.20 126.87,467.10 131.44,465.99 136.01,464.86 140.57,463.72 145.14,462.57 149.71,461.40 154.27,460.22 158.84,459.04 163.41,457.84 167.98,456.63 172.54,455.42 177.11,454.19 181.68,452.96 186.24,451.72 190.81,450.48 195.38,449.23 199.95,447.98 204.51,446.72 209.08,445.46 213.65,444.20 218.21,442.93 222.78,441.67 227.35,440.40 231.92,439.14 236.48,437.88 241.05,436.61 245.62,435.35 250.18,434.09 254.75,432.83 259.32,431.56 263.88,430.29 268.45,429.02 273.02,427.75 277.59,426.46 282.15,425.17 286.72,423.88 291.29,422.57 295.85,421.26 300.42,419.93 304.99,418.60 309.56,417.25 314.12,415.89 318.69,414.52 323.26,413.13 327.82,411.72 332.39,410.30 336.96,408.87 341.53,407.41 346.09,405.94 350.66,404.45 355.23,402.94 359.79,401.40 364.36,399.85 368.93,398.27 373.49,396.67 378.06,395.04 382.63,393.39 387.20,391.71 391.76,390.01 396.33,388.28 400.90,386.52 405.46,384.72 410.03,382.90 414.60,381.05 419.17,379.17 423.73,377.25 428.30,375.30" fill="none" stroke="#1f3a62" stroke-width="1.15" stroke-linejoin="round" stroke-linecap="butt" />
<polyline points="67.50,492.69 73.45,492.24 79.41,491.75 85.36,491.25 91.31,490.71 97.26,490.15 103.22,489.56 109.17,488.94 115.12,488.30 121.08,487.63 127.03,486.94 132.98,486.22 138.93,485.47 144.89,484.70 150.84,483.90 156.79,483.07 162.74,482.21 168.70,481.33 174.65,480.43 180.60,479.50 186.56,478.54 192.51,477.55 198.46,476.54 204.41,475.50 210.37,474.43 216.32,473.34 222.27,472.22 228.23,471.08 234.18,469.90 240.13,468.71 246.08,467.48 252.04,466.23 257.99,464.95 263.94,463.65 269.90,462.32 275.85,460.96 281.80,459.58 287.75,458.17 293.71,456.73 299.66,455.27 305.61,453.78 311.57,452.26 317.52,450.72 323.47,449.15 329.42,447.55 335.38,445.93 341.33,444.28 347.28,442.61 353.23,440.91 359.19,439.18 365.14,437.42 371.09,435.64 377.05,433.83 383.00,432.00 388.95,430.14 394.90,428.25 400.86,426.34 406.81,424.40 412.76,422.43 418.72,420.44 424.67,418.42 430.62,416.37 436.57,414.30 442.53,412.20 448.48,410.07 454.43,407.92 460.39,405.74 466.34,403.54 472.29,401.31 478.24,399.05 484.20,396.76 490.15,394.45 496.10,392.12 502.06,389.75 508.01,387.36 513.96,384.94 519.91,382.50 525.87,380.03 531.82,377.53 537.77,375.01" fill="none" stroke="#1f3a62" stroke-width="1.15" stroke-linejoin="round" stroke-linecap="butt" />
<polyline points="67.50,498.44 71.74,497.90 75.98,497.33 80.23,496.73 84.47,496.10 88.71,495.44 92.95,494.75 97.19,494.03 101.43,493.27 105.68,492.50 109.92,491.69 114.16,490.85 118.40,489.98 122.64,489.09 126.89,488.17 131.13,487.22 135.37,486.25 139.61,485.24 143.85,484.21 148.09,483.16 152.34,482.07 156.58,480.96 160.82,479.83 165.06,478.67 169.30,477.48 173.55,476.27 177.79,475.03 182.03,473.77 186.27,472.49 190.51,471.18 194.75,469.85 199.00,468.49 203.24,467.11 207.48,465.70 211.72,464.28 215.96,462.83 220.21,461.36 224.45,459.86 228.69,458.35 232.93,456.81 237.17,455.25 241.41,453.67 245.66,452.07 249.90,450.45 254.14,448.80 258.38,447.14 262.62,445.46 266.87,443.75 271.11,442.03 275.35,440.29 279.59,438.52 283.83,436.74 288.07,434.94 292.32,433.12 296.56,431.28 300.80,429.42 305.04,427.53 309.28,425.63 313.53,423.69 317.77,421.74 322.01,419.75 326.25,417.73 330.49,415.69 334.73,413.61 338.98,411.50 343.22,409.35 347.46,407.17 351.70,404.95 355.94,402.69 360.19,400.40 364.43,398.06 368.67,395.67 372.91,393.25 377.15,390.77 381.39,388.26 385.64,385.69 389.88,383.07 394.12,380.40 398.36,377.68 402.60,374.91" fill="none" stroke="#1f3a62" stroke-width="1.15" stroke-linejoin="round" stroke-linecap="butt" />
<polyline points="67.50,503.63 73.02,503.35 78.53,503.05 84.05,502.70 89.56,502.33 95.08,501.91 100.60,501.47 106.11,500.98 111.63,500.47 117.15,499.92 122.66,499.33 128.18,498.71 133.69,498.06 139.21,497.36 144.73,496.64 150.24,495.88 155.76,495.09 161.27,494.26 166.79,493.39 172.31,492.49 177.82,491.56 183.34,490.59 188.86,489.59 194.37,488.55 199.89,487.48 205.40,486.37 210.92,485.23 216.44,484.06 221.95,482.84 227.47,481.60 232.98,480.32 238.50,479.00 244.02,477.65 249.53,476.27 255.05,474.85 260.57,473.39 266.08,471.91 271.60,470.38 277.11,468.82 282.63,467.23 288.15,465.60 293.66,463.94 299.18,462.24 304.69,460.51 310.21,458.74 315.73,456.94 321.24,455.11 326.76,453.23 332.28,451.33 337.79,449.39 343.31,447.41 348.82,445.40 354.34,443.36 359.86,441.28 365.37,439.16 370.89,437.02 376.40,434.83 381.92,432.61 387.44,430.36 392.95,428.07 398.47,425.75 403.99,423.39 409.50,421.00 415.02,418.57 420.53,416.11 426.05,413.62 431.57,411.09 437.08,408.52 442.60,405.92 448.11,403.29 453.63,400.62 459.15,397.91 464.66,395.17 470.18,392.40 475.70,389.59 481.21,386.75 486.73,383.87 492.24,380.95 497.76,378.01 503.28,375.02" fill="none" stroke="#1f3a62" stroke-width="1.15" stroke-linejoin="round" stroke-linecap="butt" />
<polyline points="67.50,491.64 73.11,490.40 78.71,489.15 84.32,487.91 89.92,486.68 95.53,485.45 101.13,484.23 106.74,483.02 112.34,481.82 117.95,480.63 123.55,479.45 129.16,478.29 134.76,477.14 140.37,476.01 145.97,474.90 151.58,473.80 157.18,472.71 162.79,471.64 168.39,470.58 174.00,469.53 179.61,468.49 185.21,467.46 190.82,466.44 196.42,465.43 202.03,464.43 207.63,463.44 213.24,462.45 218.84,461.47 224.45,460.50 230.05,459.53 235.66,458.57 241.26,457.61 246.87,456.66 252.47,455.71 258.08,454.77 263.68,453.83 269.29,452.91 274.89,451.99 280.50,451.08 286.11,450.19 291.71,449.30 297.32,448.43 302.92,447.58 308.53,446.73 314.13,445.90 319.74,445.09 325.34,444.30 330.95,443.52 336.55,442.76 342.16,442.02 347.76,441.30 353.37,440.61 358.97,439.93 364.58,439.28 370.18,438.65 375.79,438.05 381.39,437.47 387.00,436.92 392.61,436.40 398.21,435.91 403.82,435.44 409.42,435.00 415.03,434.59 420.63,434.20 426.24,433.83 431.84,433.48 437.45,433.16 443.05,432.85 448.66,432.56 454.26,432.28 459.87,432.02 465.47,431.77 471.08,431.54 476.68,431.31 482.29,431.09 487.89,430.88 493.50,430.68 499.11,430.48 504.71,430.28 510.32,430.08" fill="none" stroke="#1f3a62" stroke-width="1.15" stroke-linejoin="round" stroke-linecap="butt" />
<polyline points="67.50,507.11 71.01,506.72 74.52,506.33 78.03,505.95 81.54,505.57 85.06,505.20 88.57,504.83 92.08,504.47 95.59,504.11 99.10,503.76 102.61,503.42 106.12,503.08 109.63,502.75 113.14,502.42 116.66,502.10 120.17,501.78 123.68,501.47 127.19,501.16 130.70,500.86 134.21,500.57 137.72,500.28 141.23,500.00 144.74,499.72 148.26,499.44 151.77,499.18 155.28,498.92 158.79,498.66 162.30,498.41 165.81,498.16 169.32,497.92 172.83,497.69 176.34,497.46 179.85,497.24 183.37,497.02 186.88,496.81 190.39,496.60 193.90,496.40 197.41,496.20 200.92,496.01 204.43,495.83 207.94,495.65 211.45,495.47 214.97,495.30 218.48,495.14 221.99,494.98 225.50,494.83 229.01,494.69 232.52,494.54 236.03,494.41 239.54,494.28 243.05,494.15 246.57,494.04 250.08,493.92 253.59,493.81 257.10,493.71 260.61,493.61 264.12,493.52 267.63,493.44 271.14,493.36 274.65,493.28 278.17,493.21 281.68,493.15 285.19,493.09 288.70,493.04 292.21,492.99 295.72,492.95 299.23,492.91 302.74,492.88 306.25,492.85 309.77,492.83 313.28,492.82 316.79,492.81 320.30,492.81 323.81,492.81 327.32,492.82 330.83,492.83 334.34,492.85 337.85,492.87 341.36,492.90 344.88,492.94" fill="none" stroke="#1f3a62" stroke-width="1.15" stroke-linejoin="round" stroke-linecap="butt" />
<circle cx="384.86" cy="163.27" r="2.6" fill="#ffd618" stroke="#b89420" stroke-width="0.8"/>
<circle cx="384.86" cy="218.08" r="2.8" fill="#f01414"/>
<circle cx="384.86" cy="375.00" r="2.8" fill="#f01414"/>
<path d="M67.5,0.5H649.9" stroke="#909090" stroke-width="1" fill="none"/>
<path d="M67.5,345.5H649.9V520.8" stroke="#989898" stroke-width="1" fill="none"/>
<path d="M67.5,520.8H649.9" stroke="#a0a0a0" stroke-width="1" fill="none"/>
<path d="M64.0,330.00H67.5 M64.0,309.35H67.5 M64.0,288.70H67.5 M64.0,268.05H67.5 M64.0,247.40H67.5 M64.0,226.75H67.5 M64.0,206.10H67.5 M64.0,185.45H67.5 M64.0,164.80H67.5 M64.0,144.15H67.5 M64.0,123.50H67.5 M64.0,102.85H67.5 M64.0,82.20H67.5 M64.0,61.55H67.5 M64.0,40.90H67.5 M649.9,330.00H653.4 M649.9,309.35H653.4 M649.9,288.70H653.4 M649.9,268.05H653.4 M649.9,247.40H653.4 M649.9,226.75H653.4 M649.9,206.10H653.4 M649.9,185.45H653.4 M649.9,164.80H653.4 M649.9,144.15H653.4 M64.0,520.80H67.5 M64.0,504.60H67.5 M64.0,488.40H67.5 M64.0,472.20H67.5 M64.0,456.00H67.5 M64.0,439.80H67.5 M64.0,423.60H67.5 M64.0,407.40H67.5 M64.0,391.20H67.5 M64.0,375.00H67.5 M64.0,358.80H67.5" stroke="#7a7a7a" stroke-width="1" fill="none"/>
<path d="M67.5,0V330.0H649.9V0 M67.5,345.5V520.8" stroke="#505050" stroke-width="1" fill="none"/>
<text x="60" y="333.10" text-anchor="end">0.0</text>
<text x="60" y="312.45" text-anchor="end">0.5</text>
<text x="60" y="291.80" text-anchor="end">1.0</text>
<text x="60" y="271.15" text-anchor="end">1.5</text>
<text x="60" y="250.50" text-anchor="end">2.0</text>
<text x="60" y="229.85" text-anchor="end">2.5</text>
<text x="60" y="209.20" text-anchor="end">3.0</text>
<text x="60" y="188.55" text-anchor="end">3.5</text>
<text x="60" y="167.90" text-anchor="end">4.0</text>
<text x="60" y="147.25" text-anchor="end">4.5</text>
<text x="60" y="126.60" text-anchor="end">5.0</text>
<text x="60" y="105.95" text-anchor="end">5.5</text>
<text x="60" y="85.30" text-anchor="end">6.0</text>
<text x="60" y="64.65" text-anchor="end">6.5</text>
<text x="60" y="44.00" text-anchor="end">7.0</text>
<text x="656.6" y="333.10">0</text>
<text x="656.6" y="312.45">10</text>
<text x="656.6" y="291.80">20</text>
<text x="656.6" y="271.15">30</text>
<text x="656.6" y="250.50">40</text>
<text x="656.6" y="229.85">50</text>
<text x="656.6" y="209.20">60</text>
<text x="656.6" y="188.55">70</text>
<text x="656.6" y="167.90">80</text>
<text x="656.6" y="147.25">90</text>
<text x="60" y="523.90" text-anchor="end">0</text>
<text x="60" y="507.70" text-anchor="end">0,01</text>
<text x="60" y="491.50" text-anchor="end">0,02</text>
<text x="60" y="475.30" text-anchor="end">0,03</text>
<text x="60" y="459.10" text-anchor="end">0,04</text>
<text x="60" y="442.90" text-anchor="end">0,05</text>
<text x="60" y="426.70" text-anchor="end">0,06</text>
<text x="60" y="410.50" text-anchor="end">0,07</text>
<text x="60" y="394.30" text-anchor="end">0,08</text>
<text x="60" y="378.10" text-anchor="end">0,09</text>
<text x="66.80" y="342.3" text-anchor="middle">0</text>
<text x="102.00" y="342.3" text-anchor="middle">0,5</text>
<text x="137.20" y="342.3" text-anchor="middle">1,0</text>
<text x="172.40" y="342.3" text-anchor="middle">1,5</text>
<text x="207.60" y="342.3" text-anchor="middle">2,0</text>
<text x="242.80" y="342.3" text-anchor="middle">2,5</text>
<text x="278.00" y="342.3" text-anchor="middle">3,0</text>
<text x="313.20" y="342.3" text-anchor="middle">3,5</text>
<text x="348.40" y="342.3" text-anchor="middle">4,0</text>
<text x="383.60" y="342.3" text-anchor="middle">4,5</text>
<text x="418.80" y="342.3" text-anchor="middle">5,0</text>
<text x="454.00" y="342.3" text-anchor="middle">5,5</text>
<text x="489.20" y="342.3" text-anchor="middle">6,0</text>
<text x="524.40" y="342.3" text-anchor="middle">6,5</text>
<text x="559.60" y="342.3" text-anchor="middle">7,0</text>
<text x="594.80" y="342.3" text-anchor="middle">7,5</text>
<text x="616.2" y="342.3" textLength="26.8" lengthAdjust="spacingAndGlyphs">Q [м³/ч]</text>
<text x="47.7" y="6.9" text-anchor="middle">H</text>
<text x="47.9" y="17.9" text-anchor="middle">[м]</text>
<text x="42.3" y="351.8" text-anchor="middle">P1</text>
<text x="42.6" y="362.4" text-anchor="middle">[кВт]</text>
<text x="662.8" y="7.3" textLength="10.4" lengthAdjust="spacingAndGlyphs">eta</text>
<text x="662.4" y="17.6">[%]</text>
<rect x="580.5" y="0.5" width="69.4" height="13.7" fill="#fff" stroke="#8c8c8c" stroke-width="1"/>
<text x="584.3" y="10.6" textLength="58" lengthAdjust="spacingAndGlyphs">MAGNA1 25-60</text>
<text x="445.5" y="25.8" textLength="55.75" lengthAdjust="spacingAndGlyphs">Q = 4.508 м³/ч</text>
<text x="445.5" y="37.0" textLength="43.75" lengthAdjust="spacingAndGlyphs">H = 4.037 м</text>
<text x="445.5" y="47.8" textLength="133.75" lengthAdjust="spacingAndGlyphs">Перекачиваемая жидкость = Вода</text>
<text x="445.5" y="58.1" textLength="190.2" lengthAdjust="spacingAndGlyphs">Температура перекачиваемой жидкости = 60 °C</text>
<text x="445.5" y="69.2" textLength="90.75" lengthAdjust="spacingAndGlyphs">Плотность = 983.2 кг/м³</text>
<text x="636" y="326.2" text-anchor="end" textLength="164" lengthAdjust="spacingAndGlyphs">КПД агрег+КПД преобр. частоты = 54.2 %</text>
<text x="641" y="516.6" text-anchor="end" textLength="51.5" lengthAdjust="spacingAndGlyphs">P1 = 0.09 кВт</text>
</svg>
</body></html>
